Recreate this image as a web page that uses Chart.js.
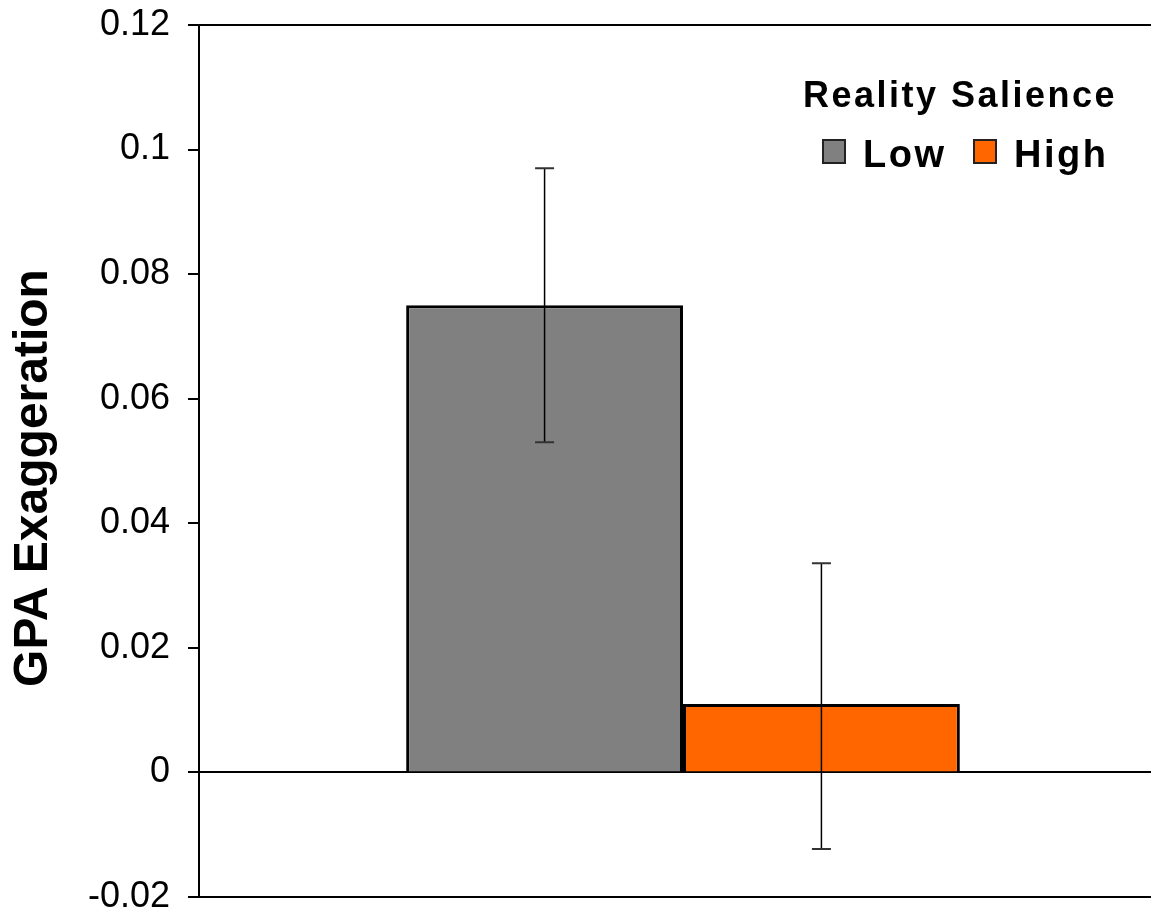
<!DOCTYPE html>
<html>
<head>
<meta charset="utf-8">
<script src="https://cdn.jsdelivr.net/npm/chart.js@4.4.0/dist/chart.umd.min.js"></script>
<style>
  html, body { margin: 0; padding: 0; background: #ffffff; overflow: hidden; }
  #wrap { width: 1168px; height: 915px; }
</style>
</head>
<body>
<div id="wrap"><canvas id="c" width="1168" height="915"></canvas></div>
<script>
// ---- data ----
const categories = ['GPA'];
const seriesNames = ['Low', 'High'];
const lowValues = [0.075];
const highValues = [0.011];
const lowErrUpper = [0.097];
const lowErrLower = [0.053];
const highErrUpper = [0.0336];
const highErrLower = [-0.0123];
const tickLabels = ['-0.02', '0', '0.02', '0.04', '0.06', '0.08', '0.1', '0.12'];
const legendTitle = 'Reality Salience';
const yTitle = 'GPA Exaggeration';

const FONT = "'Liberation Sans', Arial, Helvetica, sans-serif";
const errUpper = [lowErrUpper, highErrUpper];
const errLower = [lowErrLower, highErrLower];

const errorBarPlugin = {
  id: 'errorBars',
  afterDatasetsDraw(chart) {
    const ctx = chart.ctx;
    const y = chart.scales.y;
    chart.data.datasets.forEach((ds, i) => {
      const meta = chart.getDatasetMeta(i);
      meta.data.forEach((bar, j) => {
        const x = bar.x;
        const yt = y.getPixelForValue(errUpper[i][j]);
        const yb = y.getPixelForValue(errLower[i][j]);
        ctx.save();
        ctx.strokeStyle = '#000000';
        ctx.lineWidth = 1.5;
        ctx.beginPath();
        ctx.moveTo(x, yt); ctx.lineTo(x, yb);
        ctx.stroke();
        ctx.lineWidth = 2;
        ctx.strokeStyle = '#333333';
        ctx.beginPath();
        ctx.moveTo(x - 9.5, yt); ctx.lineTo(x + 9.5, yt);
        ctx.moveTo(x - 9.5, yb); ctx.lineTo(x + 9.5, yb);
        ctx.stroke();
        ctx.restore();
      });
    });
  }
};

const labelsPlugin = {
  id: 'customLegend',
  afterDraw(chart) {
    const ctx = chart.ctx;
    const area = chart.chartArea;
    const top = area.top;
    ctx.save();
    // y-axis title
    ctx.save();
    ctx.translate(34, (area.top + area.bottom) / 2 + 17);
    ctx.rotate(-Math.PI / 2);
    ctx.textAlign = 'center';
    ctx.textBaseline = 'middle';
    ctx.fillStyle = '#000000';
    ctx.font = 'bold 48px ' + FONT;
    ctx.fillText(yTitle, 0, 0);
    ctx.restore();
    // legend
    ctx.fillStyle = '#000000';
    ctx.textBaseline = 'alphabetic';
    ctx.textAlign = 'center';
    if ('letterSpacing' in ctx) ctx.letterSpacing = '2.5px';
    ctx.font = 'bold 36px ' + FONT;
    ctx.fillText(legendTitle, 960, top + 82);
    ctx.textAlign = 'left';
    if ('letterSpacing' in ctx) ctx.letterSpacing = '2.5px';
    ctx.font = 'bold 38px ' + FONT;
    const boxX = [823, 974];
    chart.data.datasets.forEach((ds, i) => {
      const bx = boxX[i];
      ctx.fillStyle = ds.backgroundColor;
      ctx.fillRect(bx, top + 115, 22, 23);
      ctx.lineWidth = 2;
      ctx.strokeStyle = '#222222';
      ctx.strokeRect(bx, top + 115, 22, 23);
      ctx.fillStyle = '#000000';
      ctx.fillText(ds.label, bx + 40, top + 142);
    });
    ctx.restore();
  }
};

new Chart(document.getElementById('c'), {
  type: 'bar',
  data: {
    labels: categories,
    datasets: [
      { label: seriesNames[0], data: lowValues, backgroundColor: '#808080', borderColor: '#000000', borderWidth: 3,
        categoryPercentage: 0.572, barPercentage: 1.0 },
      { label: seriesNames[1], data: highValues, backgroundColor: '#FF6600', borderColor: '#000000', borderWidth: 3,
        categoryPercentage: 0.572, barPercentage: 1.0 }
    ]
  },
  options: {
    responsive: false,
    animation: false,
    devicePixelRatio: 1,
    layout: { padding: { top: 25, right: 1, bottom: 18, left: 0 } },
    plugins: {
      legend: { display: false },
      tooltip: { enabled: false }
    },
    scales: {
      x: {
        ticks: { display: false },
        grid: { display: false },
        border: { display: true, color: '#000000', width: 2 },
        afterFit(scale) { scale.height = 0; scale.paddingLeft = 0; scale.paddingRight = 0; }
      },
      y: {
        min: -0.02,
        max: 0.12,
        afterBuildTicks(scale) {
          scale.ticks = tickLabels.map(t => ({ value: parseFloat(t) }));
        },
        ticks: {
          color: '#000000',
          padding: 18,
          font: { family: FONT, size: 36, lineHeight: 1 },
          callback: (v, i) => tickLabels[i]
        },
        grid: {
          color: (c) => (c.tick && (Math.abs(c.tick.value) < 1e-9 || Math.abs(c.tick.value - 0.12) < 1e-9)) ? '#000000' : 'rgba(0,0,0,0)',
          lineWidth: 2,
          tickColor: '#000000',
          tickLength: 11,
          drawTicks: true
        },
        border: { display: true, color: '#000000', width: 2 },
        title: { display: false, text: yTitle },
        afterFit(scale) { scale.width = 199; scale.paddingTop = 0; scale.paddingBottom = 0; }
      }
    }
  },
  plugins: [errorBarPlugin, labelsPlugin]
});
</script>
</body>
</html>
